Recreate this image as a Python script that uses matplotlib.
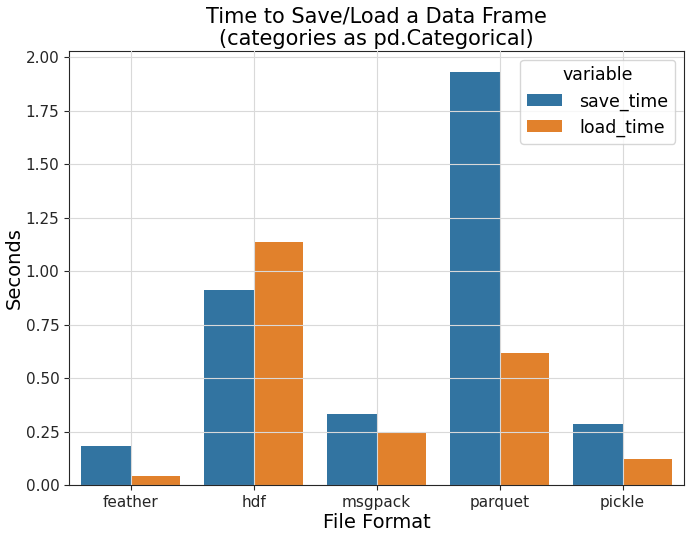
import numpy as np
import pandas as pd
import matplotlib
matplotlib.use("Agg")
import matplotlib.pyplot as plt
import seaborn as sns

formats = ["feather", "hdf", "msgpack", "parquet", "pickle"]
save_time = [0.182, 0.911, 0.332, 1.934, 0.285]
load_time = [0.045, 1.135, 0.248, 0.617, 0.121]

df = pd.DataFrame({"format": formats, "save_time": save_time, "load_time": load_time})
long = df.melt(id_vars="format", value_vars=["save_time", "load_time"])

fig, ax = plt.subplots(figsize=(6.91, 5.35), dpi=100)
sns.barplot(data=long, x="format", y="value", hue="variable", ax=ax,
            palette=["#1f77b4", "#ff7f0e"], saturation=0.75)

# grid sits on top of the bars like in the original
ax.set_axisbelow(False)
ax.grid(True, color="#d9d9d9", linewidth=0.8)
for s in ax.spines.values():
    s.set_color("#262626")
ax.set_title("Time to Save/Load a Data Frame\n(categories as pd.Categorical)", fontsize=15, pad=4)
ax.set_xlabel("File Format", fontsize=14, labelpad=2)
ax.set_ylabel("Seconds", fontsize=14, labelpad=1)
ax.tick_params(labelsize=11, colors="#262626")
ax.set_yticks(np.arange(0, 2.01, 0.25))
leg = ax.legend(title="variable", fontsize=12.5, title_fontsize=12.5, loc="upper right",
                labelspacing=0.45, handlelength=2.0, handletextpad=1.0)
leg.set_zorder(5)

plt.subplots_adjust(left=0.1, right=0.99, top=0.905, bottom=0.093)
plt.savefig("out.png")
